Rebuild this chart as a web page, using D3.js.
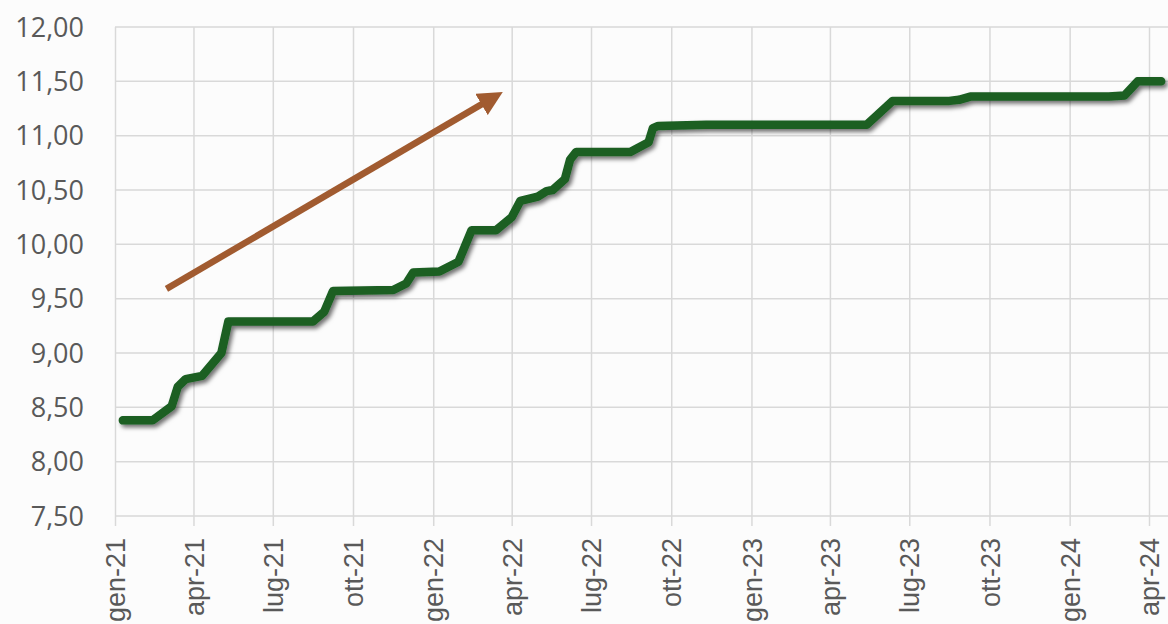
<!DOCTYPE html>
<html>
<head>
<meta charset="utf-8">
<script src="https://cdn.jsdelivr.net/npm/d3@7"></script>
<style>
  html, body { margin: 0; padding: 0; background: #fcfcfc; overflow: hidden; }
  #chart { width: 1168px; height: 624px; }
</style>
</head>
<body>
<div id="chart"></div>
<script>
const dates = [
    "2021-01-10", "2021-02-13", "2021-03-07", "2021-03-14", "2021-03-23", "2021-04-11",
    "2021-05-03", "2021-05-11", "2021-08-16", "2021-08-29", "2021-09-08", "2021-11-16",
    "2021-12-01", "2021-12-09", "2022-01-08", "2022-01-30", "2022-02-14", "2022-03-14",
    "2022-04-01", "2022-04-11", "2022-05-01", "2022-05-11", "2022-05-18", "2022-06-01",
    "2022-06-07", "2022-06-14", "2022-08-15", "2022-09-05", "2022-09-10", "2022-09-16",
    "2022-11-10", "2023-05-13", "2023-06-12", "2023-08-16", "2023-08-27", "2023-09-09",
    "2024-02-15", "2024-03-04", "2024-03-19", "2024-04-15"
];
const values = [
    8.38, 8.38, 8.51, 8.69, 8.76, 8.79,
    9.00, 9.29, 9.29, 9.38, 9.57, 9.58,
    9.64, 9.74, 9.75, 9.84, 10.13, 10.13,
    10.25, 10.40, 10.44, 10.49, 10.50, 10.60,
    10.78, 10.85, 10.85, 10.94, 11.07, 11.09,
    11.10, 11.10, 11.32, 11.32, 11.33, 11.36,
    11.36, 11.37, 11.50, 11.50
];
const yTicks = [7.5, 8, 8.5, 9, 9.5, 10, 10.5, 11, 11.5, 12];
const monthNames = ["gen", "feb", "mar", "apr", "mag", "giu", "lug", "ago", "set", "ott", "nov", "dic"];
// trend arrow: start and end as (date, value)
const arrowDates = ["2021-03-01", "2022-03-16"];
const arrowValues = [9.59, 11.375];

const width = 1168;
const height = 624;
const margins = { top: 27, bottom: 108, left: 115 };
const parse = d3.timeParse("%Y-%m-%d");

var data = dates.map((d, i) => ({ date: parse(d), value: values[i] }));

var svg = d3.select("#chart")
    .append("svg")
    .attr("width", width)
    .attr("height", height)
    .attr("style", "font-family: 'Open Sans', sans-serif;");

var defs = svg.append("defs");
defs.append("filter")
    .attr("id", "shadow")
    .attr("x", "-5%").attr("y", "-20%")
    .attr("width", "110%").attr("height", "140%")
    .append("feDropShadow")
    .attr("dx", 2.5)
    .attr("dy", 3)
    .attr("stdDeviation", 2)
    .attr("flood-color", "#000")
    .attr("flood-opacity", 0.55);

defs.append("marker")
    .attr("id", "arrowhead")
    .attr("viewBox", "0 0 10 10")
    .attr("refX", 2)
    .attr("refY", 5)
    .attr("markerWidth", 3.8)
    .attr("markerHeight", 3.8)
    .attr("markerUnits", "strokeWidth")
    .attr("orient", "auto")
    .append("path")
    .attr("d", "M0,0 L10,5 L0,10 Z")
    .attr("fill", "#a15b30");

var x = d3.scaleTime()
    .domain([parse("2021-01-01"), parse("2024-04-01")])
    .range([margins.left, 1149]);

var y = d3.scaleLinear()
    .domain([7.5, 12])
    .range([height - margins.bottom, margins.top]);

var itFormat = d => `${monthNames[d.getMonth()]}-${d3.timeFormat("%y")(d)}`;
var commaFormat = d => d3.format(".2f")(d).replace(".", ",");

// horizontal grid
svg.append("g")
    .selectAll("line")
    .data(yTicks)
    .join("line")
    .attr("x1", margins.left)
    .attr("x2", width)
    .attr("y1", d => y(d))
    .attr("y2", d => y(d))
    .attr("stroke", "#d9d9d9")
    .attr("stroke-width", 1.5);

// x axis with vertical grid + ticks
var gx = svg.append("g")
    .attr("transform", `translate(0,${margins.top})`)
    .call(d3.axisBottom(x)
        .ticks(d3.timeMonth.every(3))
        .tickSize(y(7.5) - margins.top + 10)
        .tickFormat(itFormat))
    .call(g => g.select(".domain").remove());

gx.selectAll(".tick line")
    .attr("stroke", "#d9d9d9")
    .attr("stroke-width", 1.5);

gx.selectAll(".tick text")
    .attr("transform", `translate(0,${538 - margins.top}) rotate(-90)`)
    .attr("x", 0)
    .attr("y", 0)
    .attr("dy", "0.36em")
    .style("text-anchor", "end")
    .attr("fill", "#595959")
    .attr("font-size", 27);

// y labels
svg.append("g")
    .selectAll("text")
    .data(yTicks)
    .join("text")
    .attr("x", 84)
    .attr("y", d => y(d))
    .attr("dy", "0.36em")
    .style("text-anchor", "end")
    .attr("fill", "#595959")
    .attr("font-size", 27)
    .text(d => commaFormat(d));

// trend arrow
svg.append("line")
    .attr("x1", x(parse(arrowDates[0])))
    .attr("y1", y(arrowValues[0]))
    .attr("x2", x(parse(arrowDates[1])) - 12)
    .attr("y2", y(arrowValues[1]) + 7)
    .attr("stroke", "#a15b30")
    .attr("stroke-width", 6.5)
    .attr("marker-end", "url(#arrowhead)");

// main line
var line = d3.line()
    .x(d => x(d.date))
    .y(d => y(d.value));

svg.append("path")
    .datum(data)
    .attr("d", line)
    .attr("fill", "none")
    .attr("stroke", "#1a5e22")
    .attr("stroke-width", 8.5)
    .attr("stroke-linejoin", "round")
    .attr("stroke-linecap", "round")
    .attr("filter", "url(#shadow)");
</script>
</body>
</html>
